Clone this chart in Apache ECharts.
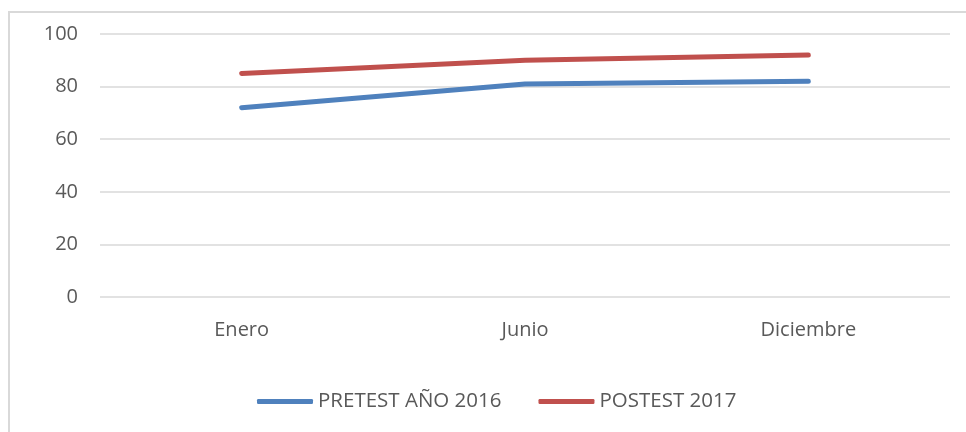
<!DOCTYPE html>
<html>
<head>
<meta charset="utf-8">
<script src="https://cdn.jsdelivr.net/npm/echarts@6/dist/echarts.min.js"></script>
<style>
  html, body { margin: 0; padding: 0; background: #fff; }
  #frame { position: absolute; left: 8px; top: 11px; width: 970px; height: 440px;
           border-left: 2px solid #d9d9d9; border-top: 2px solid #d9d9d9; }
  #chart { position: absolute; left: 0; top: 0; width: 966px; height: 432px; }
</style>
</head>
<body>
<div id="frame"></div>
<div id="chart"></div>
<script>
var months = ['Enero', 'Junio', 'Diciembre'];
var pretest = [72, 81, 82];
var postest = [85, 90, 92];
var yTicks = { min: 0, max: 100, interval: 20 };

var myChart = echarts.init(document.getElementById('chart'));
var textColor = '#595959';
var font = 'Open Sans';

var option = {
  animation: false,
  grid: { left: 100, right: 16, top: 34, bottom: 135 },
  xAxis: {
    type: 'category',
    data: months,
    axisLine: { show: false },
    axisTick: { show: false },
    axisLabel: { color: textColor, fontFamily: font, fontSize: 20, margin: 23 }
  },
  yAxis: {
    type: 'value',
    min: yTicks.min,
    max: yTicks.max,
    interval: yTicks.interval,
    axisLine: { show: false },
    axisTick: { show: false },
    axisLabel: { color: textColor, fontFamily: font, fontSize: 20, margin: 22 },
    splitLine: { lineStyle: { color: '#d9d9d9', width: 1.5 } }
  },
  legend: {
    bottom: 20,
    left: 257,
    padding: 0,
    itemWidth: 56,
    itemHeight: 5,
    itemGap: 37,
    textStyle: { color: textColor, fontFamily: font, fontSize: 20.5 },
    data: [
      { name: 'PRETEST AÑO 2016', icon: 'roundRect' },
      { name: 'POSTEST 2017', icon: 'roundRect' }
    ]
  },
  series: [
    {
      name: 'PRETEST AÑO 2016',
      type: 'line',
      data: pretest,
      showSymbol: false,
      symbol: 'none',
      color: '#4f81bd',
      lineStyle: { width: 5, cap: 'round', color: '#4f81bd' }
    },
    {
      name: 'POSTEST 2017',
      type: 'line',
      data: postest,
      showSymbol: false,
      symbol: 'none',
      color: '#c0504d',
      lineStyle: { width: 5, cap: 'round', color: '#c0504d' }
    }
  ]
};
myChart.setOption(option);
</script>
</body>
</html>
